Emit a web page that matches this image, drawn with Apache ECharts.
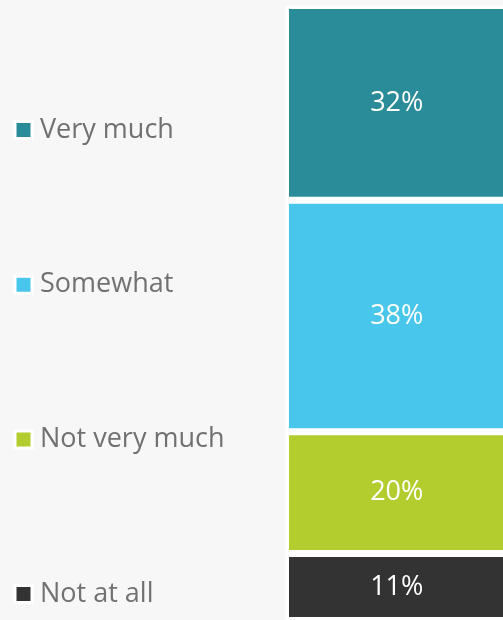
<!DOCTYPE html>
<html>
<head>
<meta charset="utf-8">
<script src="https://cdn.jsdelivr.net/npm/echarts@6/dist/echarts.min.js"></script>
<style>
  html, body { margin: 0; padding: 0; background: #f7f7f7; overflow: hidden; }
  /* the canvas runs a few pixels past the window so the bar bleeds off the right and bottom edges */
  #chart { width: 512px; height: 632px; }
</style>
</head>
<body>
<div id="chart"></div>
<script>
// Response categories, top of the stack first
const categories = ['Very much', 'Somewhat', 'Not very much', 'Not at all'];
// Share of respondents per category (%)
const shares = [32, 38, 20, 11];
const colors = ['#2a8c98', '#48c6ec', '#b3cd2f', '#333333'];

const chart = echarts.init(document.getElementById('chart'));

const series = categories.map((name, i) => ({
  name: name,
  type: 'bar',
  stack: 'total',
  barWidth: '100%',
  data: [shares[i]],
  itemStyle: { color: colors[i], borderColor: '#ffffff', borderWidth: 3.5 },
  label: {
    show: true,
    position: 'inside',
    formatter: '{c}%',
    color: '#ffffff',
    fontFamily: 'Open Sans',
    fontSize: 27
  },
  emphasis: { disabled: true }
}));

chart.setOption({
  backgroundColor: '#f7f7f7',
  animation: false,
  grid: { left: 285.5, right: 4, top: 5.5, bottom: 11.5 },
  xAxis: {
    type: 'category',
    data: [''],
    show: false
  },
  yAxis: {
    type: 'value',
    inverse: true,
    min: 0,
    max: 101,
    show: false
  },
  legend: {
    orient: 'vertical',
    left: 13.5,
    top: 115,
    padding: 0,
    itemWidth: 17,
    itemHeight: 17,
    itemGap: 124.7,
    icon: 'rect',
    itemStyle: { borderColor: '#ffffff', borderWidth: 3 },
    textStyle: {
      color: '#717171',
      fontFamily: 'Open Sans',
      fontSize: 27,
      lineHeight: 30,
      padding: [0, 0, 0, 3]
    },
    selectedMode: false,
    data: categories
  },
  series: series
});
</script>
</body>
</html>
